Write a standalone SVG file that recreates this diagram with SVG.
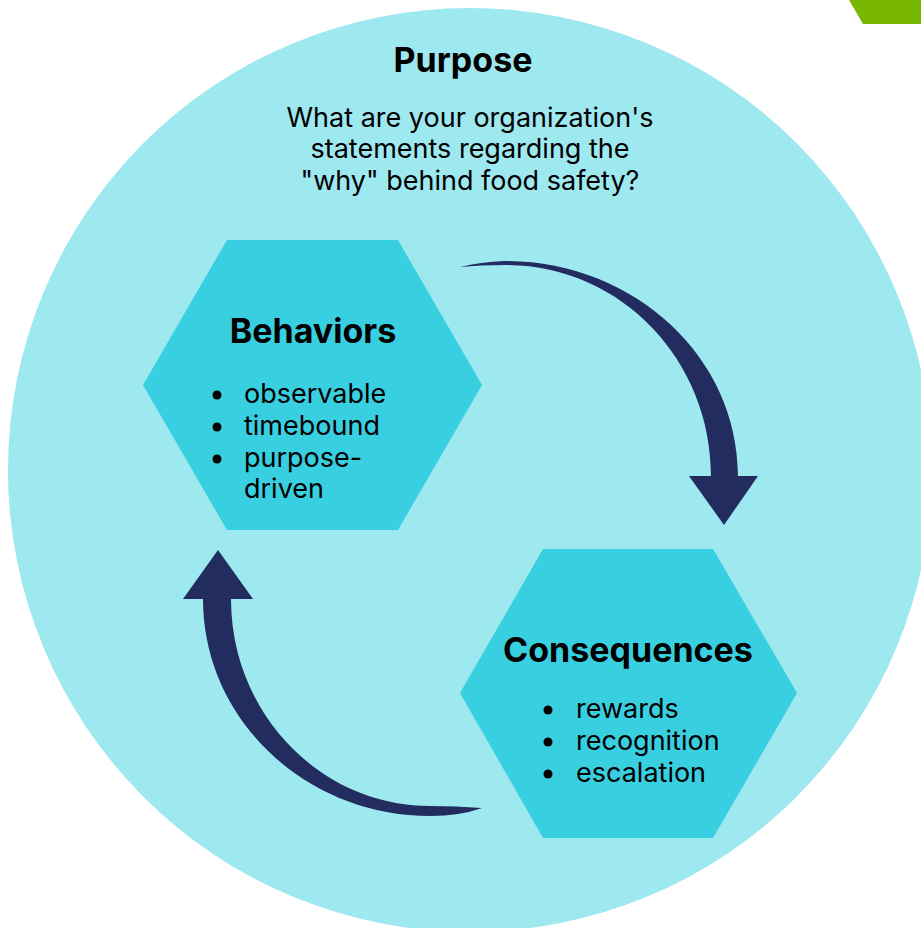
<svg xmlns="http://www.w3.org/2000/svg" width="921" height="928" viewBox="0 0 921 928">
  <style>
    .title { font-family: Inter, "Open Sans", sans-serif; font-weight: 700; font-size: 34px; fill: #000; text-anchor: middle; }
    .body { font-family: Inter, "Open Sans", sans-serif; font-weight: 400; font-size: 27px; fill: #000; }
    .q { text-anchor: middle; }
    .hex { fill: #38cfe1; }
    .arrow { fill: #222c5f; }
    .dot { fill: #000; }
  </style>
  <rect width="921" height="928" fill="#ffffff"/>
  <!-- corner tab -->
  <polygon points="849,0 921,0 921,24 863,24" fill="#78b800"/>
  <!-- outer purpose circle -->
  <g id="purpose">
    <circle cx="470" cy="470" r="462" fill="#9ee8f0"/>
    <text class="title" x="463" y="72">Purpose</text>
    <text class="body q" x="470" y="127">What are your organization's</text>
    <text class="body q" x="470" y="158">statements regarding the</text>
    <text class="body q" x="470" y="190">"why" behind food safety?</text>
  </g>
  <g id="connectors">
    <path class="arrow" d="M460 267 Q480 262 505 261 C634 261 738 357 738 476 L711 476 C711 360 621 265 505 265 Q480 265 460 267 Z"/>
    <polygon class="arrow" points="689,476 758,476 724,525"/>
    <path class="arrow" d="M203 599 C203 719 305 816 430 816 Q460 816 482 808 Q455 806 430 806 C320 806 231 713 231 599 Z"/>
    <polygon class="arrow" points="183,599 253,599 218,550"/>
  </g>
  <g id="behaviors">
    <polygon class="hex" points="227,240 398,240 482,385 398,530 227,530 143,385"/>
    <text class="title" x="313" y="343">Behaviors</text>
    <circle class="dot" cx="217" cy="395" r="4.5"/>
    <circle class="dot" cx="217" cy="427" r="4.5"/>
    <circle class="dot" cx="217" cy="459" r="4.5"/>
    <text class="body" x="244" y="403">observable</text>
    <text class="body" x="244" y="435">timebound</text>
    <text class="body" x="244" y="467">purpose-</text>
    <text class="body" x="244" y="498">driven</text>
  </g>
  <g id="consequences">
    <polygon class="hex" points="543,549 713,549 797,693 713,838 543,838 460,693"/>
    <text class="title" x="628" y="662">Consequences</text>
    <circle class="dot" cx="548" cy="710" r="4.5"/>
    <circle class="dot" cx="548" cy="742" r="4.5"/>
    <circle class="dot" cx="548" cy="774" r="4.5"/>
    <text class="body" x="576" y="718">rewards</text>
    <text class="body" x="576" y="750">recognition</text>
    <text class="body" x="576" y="782">escalation</text>
  </g>
</svg>
